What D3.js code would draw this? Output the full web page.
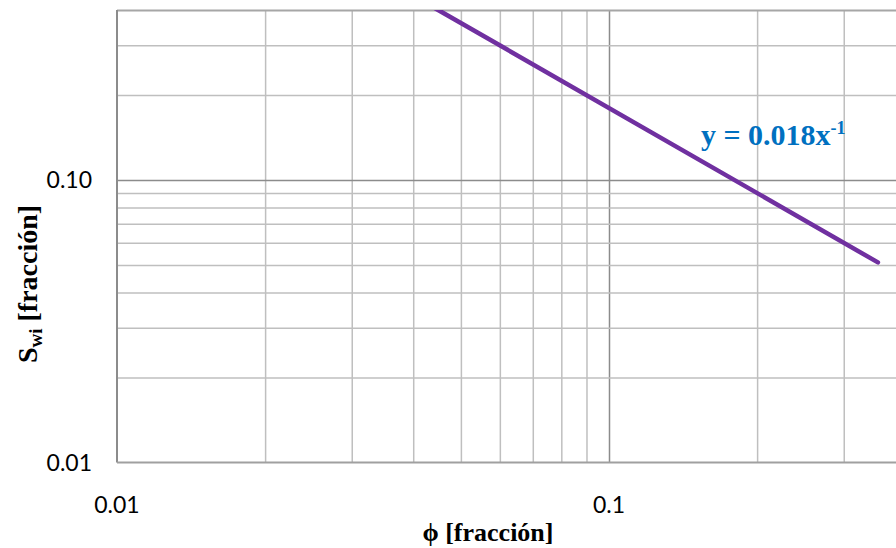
<!DOCTYPE html>
<html>
<head>
<meta charset="utf-8">
<script src="https://cdn.jsdelivr.net/npm/d3@7"></script>
<style>
  html, body { margin: 0; padding: 0; background: #fff; }
  svg { display: block; }
</style>
</head>
<body>
<svg id="chart" width="896" height="548"></svg>
<script>
// ---- data ----
const xDomain = [0.01, 0.4];
const yDomain = [0.01, 0.4];
const xGridValues = [0.02, 0.03, 0.04, 0.05, 0.06, 0.07, 0.08, 0.09, 0.1, 0.2, 0.3, 0.4];
const yGridValues = [0.02, 0.03, 0.04, 0.05, 0.06, 0.07, 0.08, 0.09, 0.1, 0.2, 0.3, 0.4];
const xMajor = [0.1];
const yMajor = [0.1];
const xTickLabels = [0.01, 0.1];
const xTickText = ["0.01", "0.1"];
const yTickLabels = [0.01, 0.1];
const yTickText = ["0.01", "0.10"];
const phi = [0.0443, 0.352];     // trendline x
const swi = [0.406, 0.0511];     // trendline y = 0.018 x^-1
const equation = "y = 0.018x";
const equationExp = "-1";
const xTitle = "ϕ [fracción]";
const yTitleMain = "S";
const yTitleSub = "wi";
const yTitleRest = " [fracción]";

// ---- layout ----
const mLeft = 117, mTop = 10, mBottom = 462.5;
const decadeX = 492;
const mRight = mLeft + Math.log10(xDomain[1] / xDomain[0]) * decadeX;

const svg = d3.select("#chart");
const x = d3.scaleLog().domain(xDomain).range([mLeft, mRight]);
const y = d3.scaleLog().domain(yDomain).range([mBottom, mTop]);

const minorColor = "#bfbfbf";
const majorColor = "#8c8c8c";

// vertical gridlines via axis
const gx = svg.append("g")
  .attr("transform", `translate(0,${mBottom})`)
  .call(d3.axisBottom(x).tickValues(xGridValues).tickSize(-(mBottom - mTop)).tickFormat(""));
gx.select(".domain").remove();
gx.selectAll(".tick line")
  .attr("stroke", d => xMajor.includes(d) ? majorColor : minorColor)
  .attr("stroke-width", 1.5);

// horizontal gridlines via axis
const gy = svg.append("g")
  .attr("transform", `translate(${mLeft},0)`)
  .call(d3.axisLeft(y).tickValues(yGridValues).tickSize(-(mRight - mLeft)).tickFormat(""));
gy.select(".domain").remove();
gy.selectAll(".tick line")
  .attr("stroke", d => yMajor.includes(d) ? majorColor : (d === 0.4 ? "#a6a6a6" : minorColor))
  .attr("stroke-width", d => d === 0.4 ? 2 : 1.5);

// axis lines
svg.append("line").attr("x1", mLeft).attr("x2", mLeft).attr("y1", mTop).attr("y2", mBottom)
  .attr("stroke", "#8c8c8c").attr("stroke-width", 2);
svg.append("line").attr("x1", mLeft).attr("x2", mRight).attr("y1", mBottom).attr("y2", mBottom)
  .attr("stroke", "#a0a0a0").attr("stroke-width", 2);

// clip
svg.append("clipPath").attr("id", "plotclip")
  .append("rect").attr("x", mLeft).attr("y", mTop).attr("width", mRight - mLeft).attr("height", mBottom - mTop);

// trendline
const pts = phi.map((p, i) => [p, swi[i]]);
svg.append("path")
  .datum(pts)
  .attr("clip-path", "url(#plotclip)")
  .attr("fill", "none")
  .attr("stroke", "#7030a0")
  .attr("stroke-width", 4.5)
  .attr("stroke-linecap", "round")
  .attr("d", d3.line().x(d => x(d[0])).y(d => y(d[1])));

// tick labels
const tickFont = "Lato, 'DejaVu Sans', sans-serif";
svg.append("g").selectAll("text").data(xTickLabels).join("text")
  .attr("x", d => x(d)).attr("y", 512.5)
  .attr("text-anchor", "middle")
  .attr("font-family", tickFont).attr("font-size", 23).attr("fill", "#000")
  .text((d, i) => xTickText[i]);
svg.append("g").selectAll("text").data(yTickLabels).join("text")
  .attr("x", 92).attr("y", d => y(d) + 8)
  .attr("text-anchor", "end")
  .attr("font-family", tickFont).attr("font-size", 23).attr("fill", "#000")
  .text((d, i) => yTickText[i]);

// axis titles
const serif = "'Liberation Serif', 'Times New Roman', serif";
svg.append("text")
  .attr("x", 488).attr("y", 541)
  .attr("text-anchor", "middle")
  .attr("font-family", serif).attr("font-weight", "bold").attr("font-size", 26)
  .text(xTitle);

const yt = svg.append("text")
  .attr("transform", "translate(37,284) rotate(-90)")
  .attr("text-anchor", "middle")
  .attr("font-family", serif).attr("font-weight", "bold").attr("font-size", 28);
yt.append("tspan").text(yTitleMain);
yt.append("tspan").attr("font-size", 19).attr("dy", 5).text(yTitleSub);
yt.append("tspan").attr("dy", -5).text(yTitleRest);

// equation label
const eq = svg.append("text")
  .attr("x", 701).attr("y", 145)
  .attr("font-family", serif).attr("font-weight", "bold").attr("font-size", 30)
  .attr("fill", "#0070c0");
eq.append("tspan").text(equation);
eq.append("tspan").attr("font-size", 18).attr("dy", -11).text(equationExp);
</script>
</body>
</html>
